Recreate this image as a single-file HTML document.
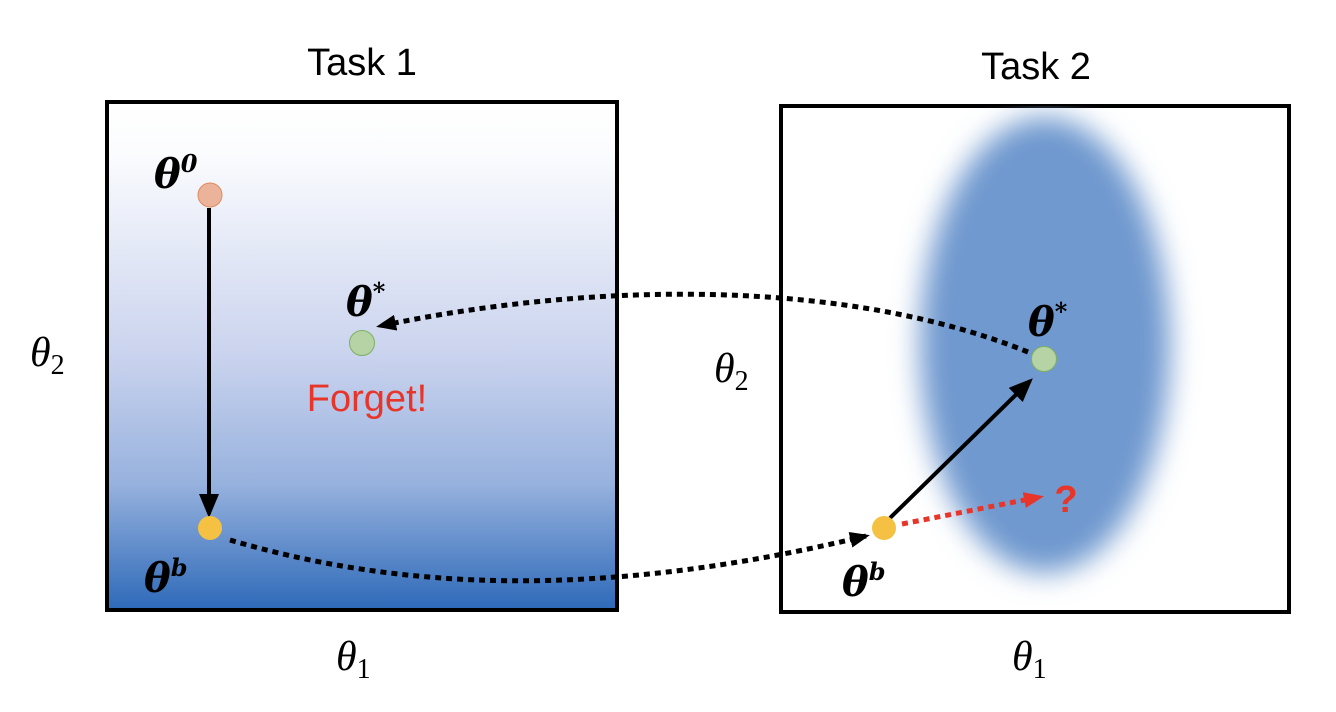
<!DOCTYPE html>
<html><head><meta charset="utf-8"><style>body{margin:0;background:#fff}svg{display:block}</style></head>
<body>
<svg width="1336" height="712" viewBox="0 0 1336 712" xmlns="http://www.w3.org/2000/svg">
<defs>
<linearGradient id="g" x1="0" y1="0" x2="0" y2="1">
<stop offset="0" stop-color="#ffffff"/>
<stop offset="0.1" stop-color="#fbfcfe"/>
<stop offset="0.5" stop-color="#cad3ee"/>
<stop offset="0.75" stop-color="#97b2de"/>
<stop offset="1" stop-color="#2d69b8"/>
</linearGradient>
<filter id="b" x="-50%" y="-50%" width="200%" height="200%"><feGaussianBlur stdDeviation="14"/></filter>
<marker id="ak" markerWidth="20" markerHeight="16" refX="16" refY="8" orient="auto" markerUnits="userSpaceOnUse"><path d="M0,0 L20,8 L0,16z" fill="#000"/></marker>
<marker id="ar" markerWidth="20" markerHeight="16" refX="16" refY="8" orient="auto" markerUnits="userSpaceOnUse"><path d="M0,0 L20,8 L0,16z" fill="#e8352a"/></marker>
<marker id="ab" markerWidth="24" markerHeight="20" refX="20" refY="10" orient="auto" markerUnits="userSpaceOnUse"><path d="M0,0 L24,10 L0,20z" fill="#000"/></marker>
<clipPath id="c"><rect x="781" y="106" width="508" height="506"/></clipPath>
</defs>
<rect x="107" y="102" width="510" height="508" fill="url(#g)" stroke="#000" stroke-width="4"/>
<rect x="781" y="106" width="508" height="506" fill="#fff" stroke="#000" stroke-width="4"/>
<g clip-path="url(#c)"><ellipse cx="1045" cy="345" rx="125" ry="228" fill="#7099cf" filter="url(#b)"/></g>
<g font-family="Liberation Sans, sans-serif" font-size="38" fill="#000">
<text x="362" y="75" text-anchor="middle">Task 1</text>
<text x="1036" y="79" text-anchor="middle">Task 2</text>
</g>
<g font-family="Liberation Serif, serif" font-style="italic" font-size="42" fill="#000">
<text x="30" y="366">θ<tspan font-style="normal" font-size="28" dy="8">2</tspan></text>
<text x="714" y="382">θ<tspan font-style="normal" font-size="28" dy="8">2</tspan></text>
<text x="336" y="670">θ<tspan font-style="normal" font-size="28" dy="8">1</tspan></text>
<text x="1012" y="670">θ<tspan font-style="normal" font-size="28" dy="8">1</tspan></text>
</g>
<g font-family="DejaVu Serif, serif" font-style="italic" font-weight="bold" font-size="40" fill="#000">
<text x="154" y="188">θ<tspan font-size="24" dy="-16">0</tspan></text>
<text x="346" y="316">θ<tspan font-size="24" dy="-16">*</tspan></text>
<text x="144" y="592">θ<tspan font-size="24" dy="-16">b</tspan></text>
<text x="1028" y="336">θ<tspan font-size="24" dy="-16">*</tspan></text>
<text x="842" y="596">θ<tspan font-size="24" dy="-16">b</tspan></text>
</g>
<text x="367" y="411" text-anchor="middle" font-family="Liberation Sans, sans-serif" font-size="38" fill="#e8352a">Forget!</text>
<text x="1066" y="512" text-anchor="middle" font-family="Liberation Sans, sans-serif" font-weight="bold" font-size="38" fill="#e8352a">?</text>
<line x1="209" y1="208" x2="209" y2="514" stroke="#000" stroke-width="4" marker-end="url(#ab)"/>
<line x1="890" y1="518" x2="1030" y2="381" stroke="#000" stroke-width="4" marker-end="url(#ab)"/>
<path d="M230,540 C400,590 600,600 866,536" fill="none" stroke="#000" stroke-width="5" stroke-dasharray="6,5" marker-end="url(#ak)"/>
<path d="M1028,352 C850,280 600,280 380,326" fill="none" stroke="#000" stroke-width="5" stroke-dasharray="6,5" marker-end="url(#ak)"/>
<line x1="902" y1="524" x2="1040" y2="497" stroke="#e8352a" stroke-width="5" stroke-dasharray="6,5" marker-end="url(#ar)"/>
<circle cx="210" cy="195" r="12" fill="#ebb49a" stroke="#e08a5e" stroke-width="1"/>
<circle cx="210" cy="528" r="12" fill="#f5c142"/>
<circle cx="362" cy="343" r="12.5" fill="#b5d3a5" stroke="#7fb061" stroke-width="1"/>
<circle cx="884" cy="528" r="12" fill="#f5c142"/>
<circle cx="1044" cy="359" r="12.5" fill="#b5d3a5" stroke="#7fb061" stroke-width="1"/>
</svg>
</body></html>
